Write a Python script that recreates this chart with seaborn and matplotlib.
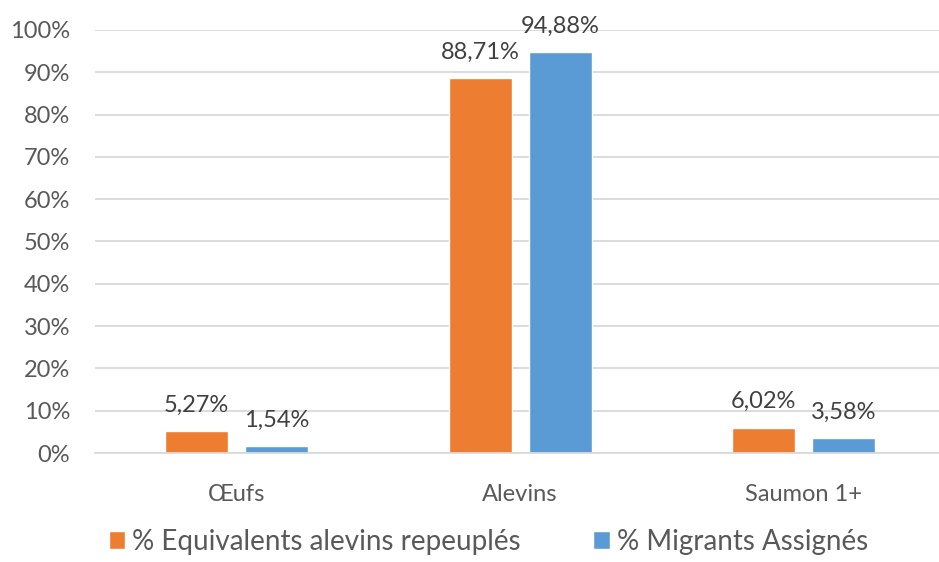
import pandas as pd
import numpy as np
import matplotlib.pyplot as plt
import seaborn as sns

categories = ['Œufs', 'Alevins', 'Saumon 1+']
series_names = ['% Equivalents alevins repeuplés', '% Migrants Assignés']
repeuples = [5.27, 88.71, 6.02]
migrants = [1.54, 94.88, 3.58]
yticks = [0, 10, 20, 30, 40, 50, 60, 70, 80, 90, 100]
colors = ['#ED7D31', '#5B9BD5']

df = pd.DataFrame({
    'categorie': categories * 2,
    'serie': [series_names[0]] * 3 + [series_names[1]] * 3,
    'valeur': repeuples + migrants,
})

sns.set_style('white')
plt.rcParams['font.family'] = ['Lato', 'DejaVu Sans']

fig = plt.figure(figsize=(9.39, 5.62), dpi=100)
ax = fig.add_axes([95 / 939, 1 - 453 / 562, 844 / 939, 423 / 562])

sns.barplot(data=df, x='categorie', y='valeur', hue='serie', order=categories,
            hue_order=series_names, palette=colors, width=0.564, gap=0.21,
            saturation=1, ax=ax, legend=True)

ax.set_ylim(0, 100)
ax.set_xlim(-0.5, 2.478)
ax.set_yticks(yticks)
ax.set_yticklabels([f'{t}%' for t in yticks], fontsize=17, color='#595959')
ax.tick_params(axis='x', labelsize=17, labelcolor='#595959', length=0, pad=22)
ax.tick_params(axis='y', length=0, pad=18)
ax.set_xlabel('')
ax.set_ylabel('')
ax.yaxis.grid(True, color='#D9D9D9', linewidth=1.3)
ax.set_axisbelow(True)
for side in ['top', 'right', 'left']:
    ax.spines[side].set_visible(False)
ax.spines['bottom'].set_color('#D9D9D9')
ax.spines['bottom'].set_linewidth(1.3)

for cont in ax.containers:
    ax.bar_label(cont, labels=[f'{v:.2f}%'.replace('.', ',') for v in cont.datavalues],
                 fontsize=17, color='#404040', padding=11)

handles, labels = ax.get_legend_handles_labels()
ax.legend_.remove()
fig.legend(handles, labels, loc='lower center', bbox_to_anchor=(0.52, -0.032), ncol=2,
           frameon=False, fontsize=20, labelcolor='#595959', handlelength=0.6,
           handleheight=0.6, handletextpad=0.25, columnspacing=2.6)

fig.savefig('out.png', dpi=100)
